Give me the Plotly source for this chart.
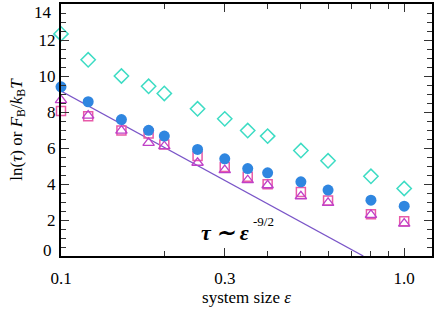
import plotly.graph_objects as go

# system size epsilon
eps = [0.1, 0.12, 0.15, 0.18, 0.2, 0.25, 0.3, 0.35, 0.4, 0.5, 0.6, 0.8, 1.0]
diamonds = [12.34, 10.9, 10.0, 9.43, 9.03, 8.18, 7.62, 6.97, 6.66, 5.86, 5.29, 4.43, 3.75]
circles = [9.4, 8.57, 7.58, 6.98, 6.66, 5.92, 5.4, 4.86, 4.62, 4.12, 3.66, 3.1, 2.77]
squares = [8.05, 7.77, 6.97, 6.8, 6.19, 5.55, 4.95, 4.4, 3.99, 3.55, 3.08, 2.32, 1.93]
triangles = [8.66, 7.8, 6.97, 6.29, 6.1, 5.18, 4.77, 4.21, 3.93, 3.32, 2.95, 2.29, 1.8]

# power-law guide line tau ~ eps^-9/2 (endpoints)
line_x = [0.1, 0.76]
line_y = [9.16, 0.0]

x_tickvals = [0.1, 0.3, 1.0]
x_ticktext = ["0.1", "0.3", "1.0"]
x_minor = [0.2, 0.4, 0.5, 0.6, 0.7, 0.8, 0.9]
y_tickvals = [2, 4, 6, 8, 10, 12]
y_edge_labels = ["0", "14"]   # drawn inset at the frame edges, as in the reference

FONT = "Liberation Serif"

fig = go.Figure()
fig.add_trace(go.Scatter(x=line_x, y=line_y, mode="lines",
                         line=dict(color="#7a55c8", width=1.3),
                         showlegend=False, hoverinfo="skip"))
fig.add_trace(go.Scatter(x=eps, y=diamonds, mode="markers",
                         marker=dict(symbol="diamond-open", size=11, color="#3ddcc4",
                                     line=dict(width=1.5, color="#3ddcc4")),
                         showlegend=False, cliponaxis=False))
fig.add_trace(go.Scatter(x=eps, y=squares, mode="markers",
                         marker=dict(symbol="square-open", size=9, color="#e85aa8",
                                     line=dict(width=1.5, color="#e85aa8")),
                         showlegend=False, cliponaxis=False))
fig.add_trace(go.Scatter(x=eps, y=triangles, mode="markers",
                         marker=dict(symbol="triangle-up-open", size=10, color="#c040c8",
                                     line=dict(width=1.3, color="#c040c8")),
                         showlegend=False, cliponaxis=False))
fig.add_trace(go.Scatter(x=eps, y=circles, mode="markers",
                         marker=dict(symbol="circle", size=11, color="#2f86e0"),
                         showlegend=False, cliponaxis=False))

TICKFONT = dict(family=FONT, size=17, color="black")

fig.update_layout(
    width=436, height=310,
    margin=dict(l=61, r=4, t=4, b=54),
    paper_bgcolor="white", plot_bgcolor="white",
    font=dict(family=FONT, size=17, color="black"),
    xaxis=dict(type="log", range=[-1, 0.081], automargin=False,
               tickmode="array", tickvals=x_tickvals, ticktext=x_ticktext,
               tickfont=TICKFONT, ticklabelstandoff=6,
               ticks="inside", ticklen=8, tickwidth=1, tickcolor="#333",
               minor=dict(tickmode="array", tickvals=x_minor, ticks="inside",
                          ticklen=5, tickwidth=1, tickcolor="#333", showgrid=False),
               showline=True, linecolor="black", linewidth=2, mirror="ticks",
               showgrid=False, zeroline=False,
               title=dict(text="system size <i>ε</i>", font=dict(size=17, family=FONT),
                          standoff=0)),
    yaxis=dict(range=[0, 14], automargin=False,
               tickmode="array", tickvals=y_tickvals,
               tickfont=TICKFONT,
               ticks="inside", ticklen=8, tickwidth=1, tickcolor="#333",
               minor=dict(dtick=0.5, ticks="inside", ticklen=5, tickwidth=1,
                          tickcolor="#333", showgrid=False),
               showline=True, linecolor="black", linewidth=2, mirror="ticks",
               showgrid=False, zeroline=False,
               title=dict(text="ln(<i>τ</i>) or <i>F</i><sub>B</sub>/<i>k</i><sub>B</sub><i>T</i>",
                          font=dict(size=17, family=FONT), standoff=12)),
)

fig.add_annotation(x=0, y=0, xref="paper", yref="paper", xanchor="right", yanchor="middle",
                   xshift=-7, yshift=6, text=y_edge_labels[0], showarrow=False,
                   font=TICKFONT)
fig.add_annotation(x=0, y=1, xref="paper", yref="paper", xanchor="right", yanchor="middle",
                   xshift=-7, yshift=-8, text=y_edge_labels[1], showarrow=False,
                   font=TICKFONT)

fig.add_annotation(x=0.441, y=0.093, xref="paper", yref="paper",
                   xanchor="center", yanchor="middle",
                   text="<b><i>τ ∼ ε</i></b>", showarrow=False,
                   font=dict(family=FONT, size=22, color="black"))
fig.add_annotation(x=0.513, y=0.135, xref="paper", yref="paper",
                   xanchor="left", yanchor="middle",
                   text="-9/2", showarrow=False,
                   font=dict(family=FONT, size=13, color="black"))

fig.write_html("out.html", config={"displayModeBar": False},
               post_script="document.body.style.margin='0';document.body.style.overflow='hidden';")
